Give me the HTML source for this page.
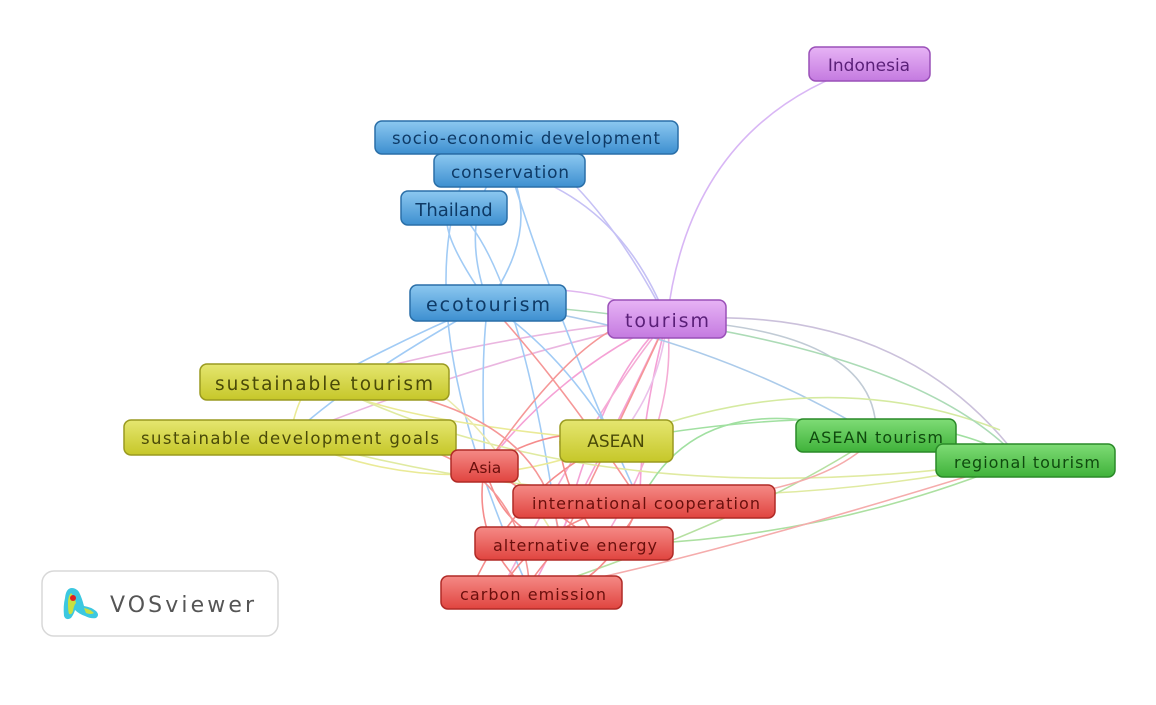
<!DOCTYPE html>
<html><head><meta charset="utf-8"><style>
html,body{margin:0;padding:0;background:#fff;}
svg{display:block;font-family:"DejaVu Sans","Liberation Sans",sans-serif;}
</style></head><body>
<svg width="1156" height="705" viewBox="0 0 1156 705" xmlns="http://www.w3.org/2000/svg">
<defs>
<linearGradient id="gB" x1="0" y1="0" x2="0" y2="1"><stop offset="0" stop-color="#8cc8f0"/><stop offset="1" stop-color="#3d8fd0"/></linearGradient>
<linearGradient id="gP" x1="0" y1="0" x2="0" y2="1"><stop offset="0" stop-color="#e7b3f5"/><stop offset="1" stop-color="#c47ae0"/></linearGradient>
<linearGradient id="gY" x1="0" y1="0" x2="0" y2="1"><stop offset="0" stop-color="#e5e670"/><stop offset="1" stop-color="#c6c729"/></linearGradient>
<linearGradient id="gR" x1="0" y1="0" x2="0" y2="1"><stop offset="0" stop-color="#f58a86"/><stop offset="1" stop-color="#e0443f"/></linearGradient>
<linearGradient id="gG" x1="0" y1="0" x2="0" y2="1"><stop offset="0" stop-color="#7fdc76"/><stop offset="1" stop-color="#3fb23a"/></linearGradient>
</defs>
<g fill="none" stroke-width="1.6" opacity="0.65">
<path d="M667 320 Q690 120 870 64" stroke="#c490f0"/>
<path d="M667 320 Q620 200 510 170" stroke="#a8a0f0"/>
<path d="M667 320 Q600 190 520 140" stroke="#a8a0f0"/>
<path d="M667 320 Q560 270 488 303" stroke="#d090e8"/>
<path d="M667 320 Q900 300 1020 460" stroke="#b0a0c8"/>
<path d="M667 320 Q880 330 876 436" stroke="#a0b0c0"/>
<path d="M667 320 Q600 380 560 545" stroke="#f070c0"/>
<path d="M667 320 Q620 420 530 592" stroke="#f070c0"/>
<path d="M667 320 Q640 420 640 502" stroke="#f070c0"/>
<path d="M667 320 Q560 370 485 466" stroke="#f070c0"/>
<path d="M667 320 Q520 330 324 382" stroke="#e090d0"/>
<path d="M667 320 Q480 360 290 437" stroke="#e090d0"/>
<path d="M667 320 Q660 390 616 441" stroke="#e0a0e0"/>
<path d="M667 320 Q600 400 500 592" stroke="#f080c0"/>
<path d="M667 320 Q680 420 600 545" stroke="#f080c0"/>
<path d="M488 303 Q430 220 454 208" stroke="#70b0f0"/>
<path d="M488 303 Q540 230 510 170" stroke="#70b0f0"/>
<path d="M488 303 Q450 200 526 137" stroke="#70b0f0"/>
<path d="M454 208 Q520 260 560 545" stroke="#70b0f0"/>
<path d="M454 208 Q420 350 530 592" stroke="#70b0f0"/>
<path d="M510 170 Q560 330 640 502" stroke="#70b0f0"/>
<path d="M488 303 Q480 360 485 466" stroke="#70b0f0"/>
<path d="M488 303 Q560 350 616 441" stroke="#70b0f0"/>
<path d="M488 303 Q400 340 324 382" stroke="#70b0f0"/>
<path d="M488 303 Q350 380 290 437" stroke="#70b0f0"/>
<path d="M488 303 Q700 330 876 436" stroke="#80b0e0"/>
<path d="M454 208 Q470 140 526 137" stroke="#70b0f0"/>
<path d="M324 382 Q380 420 616 441" stroke="#e0e060"/>
<path d="M290 437 Q450 510 616 441" stroke="#e0e060"/>
<path d="M324 382 Q600 520 1020 460" stroke="#d0e070"/>
<path d="M290 437 Q650 540 1020 460" stroke="#d0e070"/>
<path d="M616 441 Q820 360 1000 430" stroke="#c0e070"/>
<path d="M290 437 Q300 380 324 382" stroke="#e0e060"/>
<path d="M324 382 Q420 310 560 545" stroke="#e0e080"/>
<path d="M876 436 Q700 380 640 502" stroke="#70d070"/>
<path d="M1020 460 Q900 390 616 441" stroke="#70d070"/>
<path d="M1020 460 Q800 550 560 545" stroke="#80d070"/>
<path d="M1020 460 Q900 330 488 303" stroke="#80c890"/>
<path d="M876 436 Q750 520 530 592" stroke="#90d070"/>
<path d="M485 466 Q500 530 560 545" stroke="#f05050"/>
<path d="M485 466 Q470 540 530 592" stroke="#f05050"/>
<path d="M640 502 Q620 560 560 545" stroke="#f05050"/>
<path d="M640 502 Q600 600 530 592" stroke="#f05050"/>
<path d="M560 545 Q520 590 530 592" stroke="#f05050"/>
<path d="M485 466 Q560 420 616 441" stroke="#f05050"/>
<path d="M560 545 Q550 400 324 382" stroke="#f06060"/>
<path d="M530 592 Q520 420 290 437" stroke="#f06060"/>
<path d="M640 502 Q560 380 488 303" stroke="#f06060"/>
<path d="M560 545 Q640 380 667 320" stroke="#f06060"/>
<path d="M530 592 Q700 560 1020 460" stroke="#f08080"/>
<path d="M640 502 Q820 500 876 436" stroke="#f08080"/>
<path d="M485 466 Q600 300 667 320" stroke="#f06060"/>
<path d="M485 466 Q540 500 600 545" stroke="#f05050"/>
<path d="M500 592 Q540 520 640 502" stroke="#f05050"/>
<path d="M470 592 Q520 480 616 441" stroke="#f05050"/>
<path d="M600 545 Q560 480 560 441" stroke="#f05050"/>
</g>
<g stroke-width="1.5">
<rect x="809" y="47" width="121" height="34" rx="7" fill="url(#gP)" stroke="#9a50b8"/>
<rect x="375" y="121" width="303" height="33" rx="7" fill="url(#gB)" stroke="#2a6fa8"/>
<rect x="434" y="154" width="151" height="33" rx="7" fill="url(#gB)" stroke="#2a6fa8"/>
<rect x="401" y="191" width="106" height="34" rx="7" fill="url(#gB)" stroke="#2a6fa8"/>
<rect x="410" y="285" width="156" height="36" rx="7" fill="url(#gB)" stroke="#2a6fa8"/>
<rect x="608" y="300" width="118" height="38" rx="7" fill="url(#gP)" stroke="#9a50b8"/>
<rect x="200" y="364" width="249" height="36" rx="7" fill="url(#gY)" stroke="#9a9a20"/>
<rect x="124" y="420" width="332" height="35" rx="7" fill="url(#gY)" stroke="#9a9a20"/>
<rect x="560" y="420" width="113" height="42" rx="7" fill="url(#gY)" stroke="#9a9a20"/>
<rect x="451" y="450" width="67" height="32" rx="7" fill="url(#gR)" stroke="#b02a26"/>
<rect x="796" y="419" width="160" height="33" rx="7" fill="url(#gG)" stroke="#2a8a28"/>
<rect x="936" y="444" width="179" height="33" rx="7" fill="url(#gG)" stroke="#2a8a28"/>
<rect x="513" y="485" width="262" height="33" rx="7" fill="url(#gR)" stroke="#b02a26"/>
<rect x="475" y="527" width="198" height="33" rx="7" fill="url(#gR)" stroke="#b02a26"/>
<rect x="441" y="576" width="181" height="33" rx="7" fill="url(#gR)" stroke="#b02a26"/>
</g>
<g text-anchor="middle">
<text x="869" y="71" font-size="17" fill="#5a1f78">Indonesia</text>
<text x="526" y="144" font-size="16.5" fill="#0e3a66" textLength="268">socio-economic development</text>
<text x="510" y="178" font-size="17" fill="#0e3a66" textLength="118">conservation</text>
<text x="454" y="216" font-size="18" fill="#0e3a66">Thailand</text>
<text x="488" y="311" font-size="19" fill="#0e3a66" textLength="124">ecotourism</text>
<text x="667" y="327" font-size="19" fill="#5a1f78" textLength="84">tourism</text>
<text x="324" y="390" font-size="18.5" fill="#4a4a08" textLength="218">sustainable tourism</text>
<text x="290" y="444" font-size="16.5" fill="#4a4a08" textLength="298">sustainable development goals</text>
<text x="616" y="447" font-size="17" fill="#4a4a08">ASEAN</text>
<text x="485" y="473" font-size="15.5" fill="#6a0f0c">Asia</text>
<text x="876" y="443" font-size="16" fill="#0f4a0e" textLength="134">ASEAN tourism</text>
<text x="1027" y="468" font-size="16" fill="#0f4a0e" textLength="146">regional tourism</text>
<text x="646" y="509" font-size="16" fill="#6a0f0c" textLength="228">international cooperation</text>
<text x="575" y="551" font-size="16" fill="#6a0f0c" textLength="164">alternative energy</text>
<text x="533" y="600" font-size="16" fill="#6a0f0c" textLength="146">carbon emission</text>
</g>
<rect x="42" y="571" width="236" height="65" rx="12" fill="#fff" stroke="#d8d8d8" stroke-width="1.5"/>
<g>
<path d="M72 588 q-6 0 -7 10 q-2 8 -1 18 q2 5 7 2 q3 -4 4 -8 q4 4 10 6 q6 3 11 2 q4 -3 0 -7 q-5 -4 -12 -5 q-2 -8 -5 -14 q-3 -4 -7 -4z" fill="#3cc8e0"/>
<path d="M71 593 q-3 3 -3 10 q0 8 1 11 q3 1 4 -3 q1 -6 3 -8 q-1 -6 -5 -10z" fill="#c8e040"/>
<circle cx="73" cy="598" r="3" fill="#e02020"/>
<path d="M84 608 q6 1 10 5 q-3 2 -8 0z" fill="#c8e040"/>
</g>
<text x="110" y="612" font-size="22" fill="#555" textLength="144">VOSviewer</text>
</svg>
</body></html>
